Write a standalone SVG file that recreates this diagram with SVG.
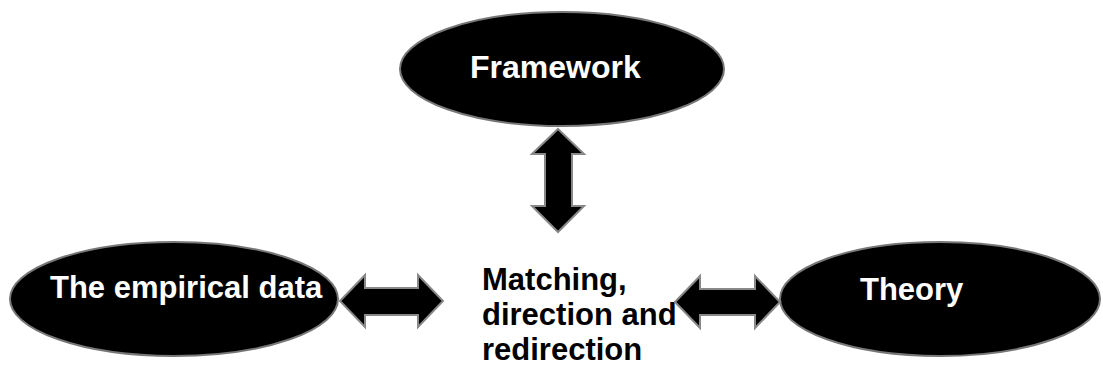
<svg xmlns="http://www.w3.org/2000/svg" width="1103" height="370" viewBox="0 0 1103 370">
<style>
.node{fill:#000;stroke:#777;stroke-width:2}
.lbl{font-family:"Liberation Sans",Arial,sans-serif;font-weight:bold;font-size:31px;fill:#fff}
.mid{font-family:"Liberation Sans",Arial,sans-serif;font-weight:bold;font-size:31px;fill:#000}
.arr{fill:#000;stroke:#888;stroke-width:2;stroke-linejoin:miter}
</style>
<rect width="1103" height="370" fill="#fff"/>
<g id="framework">
<ellipse class="node" cx="562" cy="69" rx="162" ry="57"/>
<text class="lbl" x="470" y="78" style="font-size:32px">Framework</text>
</g>
<g id="empirical">
<ellipse class="node" cx="174" cy="299" rx="164" ry="57"/>
<text class="lbl" x="50" y="298">The empirical data</text>
</g>
<g id="theory">
<ellipse class="node" cx="940" cy="299" rx="160" ry="57"/>
<text class="lbl" x="860" y="300">Theory</text>
</g>
<g id="center">
<text class="mid" x="482" y="290">Matching,</text>
<text class="mid" x="482" y="325">direction and</text>
<text class="mid" x="482" y="360">redirection</text>
</g>
<g id="connectors">
<polygon class="arr" points="558,129 584,154 572,154 572,206 584,206 558,232 532,206 545,206 545,154 532,154"/>
<polygon class="arr" points="340,301 365,275 365,288 418,288 418,275 443,301 418,327 418,315 365,315 365,327"/>
<polygon class="arr" points="675,302 700,276 700,289 755,289 755,276 780,302 755,328 755,315 700,315 700,328"/>
</g>
</svg>
